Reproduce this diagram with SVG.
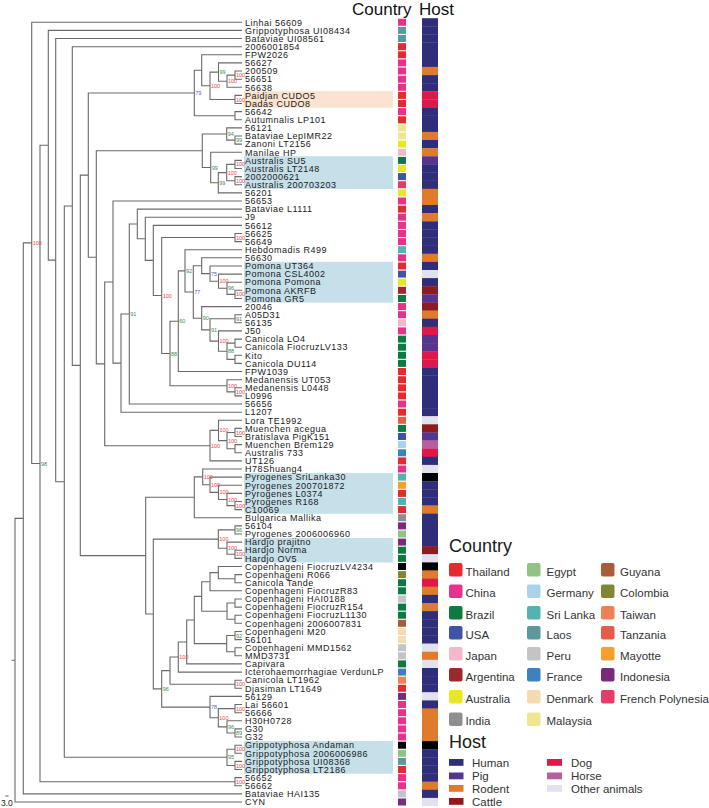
<svg xmlns="http://www.w3.org/2000/svg" width="709" height="808" viewBox="0 0 709 808">
<style>
text{font-family:"Liberation Sans",Arial,sans-serif}
.lf text{font-size:9px;letter-spacing:0.5px;fill:#1a1a1a}
.br_{fill:none;stroke:#6a6a6a;stroke-width:1.1}
.sp{font-size:5.5px}
.r{fill:#e5484a}.g{fill:#3b8a52}.b{fill:#5566b8}
.th{fill:#e52a30}.cn{fill:#e8318a}.bz{fill:#0f7a3f}.us{fill:#3e55a5}.jp{fill:#f2b9cb}.ar{fill:#9a2a2c}
.au{fill:#ebe52a}.in{fill:#8e8e8e}.eg{fill:#91c384}.de{fill:#a9d3e8}.lk{fill:#52b3b0}.la{fill:#5a9a9b}
.pe{fill:#c4c4c4}.fr{fill:#3e80c0}.dk{fill:#f5dbb0}.my{fill:#efe690}.gy{fill:#a85c3c}.co{fill:#828534}
.tw{fill:#ef8058}.tz{fill:#e35d4a}.yt{fill:#f5a02b}.id{fill:#7b2b7c}.pf{fill:#e63c6a}.bk{fill:#000}
.hu{fill:#2f2e7b}.pg{fill:#55358f}.ro{fill:#e07b2c}.ca{fill:#8e1c1e}.dg{fill:#e0184a}.ho{fill:#b65e9e}.ot{fill:#e2e2ef}
.lg{font-size:11.5px;fill:#333}
.ttl{font-size:18px;fill:#1a1a1a}
</style>
<rect width="709" height="808" fill="#fff"/>
<g id="highlights">
<rect x="244" y="91.2" width="149" height="16.6" fill="#fbe3cf"/>
<rect x="244" y="156.2" width="149" height="32.8" fill="#c6e0ea"/>
<rect x="244" y="261.8" width="149" height="40.8" fill="#c6e0ea"/>
<rect x="244" y="473" width="149" height="40.8" fill="#c6e0ea"/>
<rect x="244" y="538" width="149" height="24.5" fill="#c6e0ea"/>
<rect x="244" y="741" width="149" height="32.7" fill="#c6e0ea"/>
</g>
<text x="352" y="15" style="font-size:17px;fill:#111">Country</text>
<text x="419" y="15" style="font-size:17px;fill:#111">Host</text>
<g id="connectors" class="br_">
<path d="M242 71H235V79.2H242M235 75.1H227V87.3H242M242 62.9H218.5V81.2H227M242 95.4H235V103.5H242M218.5 72.1H210V99.5H235M242 54.8H201.7V85.8H210M242 111.6H235V119.8H242M201.7 70.3H194.3V115.7H235"/>
<path d="M242 136H235V144.1H242M242 127.9H226.7V140.1H235M242 160.4H235V168.5H242M242 176.6H235V184.7H242M235 164.4H226.7V180.7H235M226.7 172.6H218.3V192.9H242M242 152.3H210.7V182.7H218.3M226.7 134H202.3V167.5H210.7"/>
<path d="M242 233.5H235V241.6H242M242 290.3H235V298.5H242M242 282.2H227V294.4H235M242 274.1H218.5V288.3H227M242 266H210V281.2H218.5M242 257.8H201.7V273.6H210"/>
<path d="M242 314.7H235V322.8H242M242 339.1H235V347.2H242M242 355.3H235V363.4H242M235 343.1H227V359.4H235M242 330.9H218.5V351.2H227M235 318.8H210V341.1H218.5M242 306.6H201.7V329.9H210M201.7 265.7H193.3V318.3H201.7M242 249.7H185V292H193.3M185 270.9H178.3V371.5H242"/>
<path d="M242 387.8H235V395.9H242M242 379.7H227V391.9H235M178.3 321.2H170V385.8H227M235 237.5H161.7V353.5H170M242 225.4H153.3V295.5H161.7M242 217.2H145.3V260.4H153.3M242 209.1H137.3V238.8H145.3M137.3 224H129.3V404H242M129.3 314H121V412.2H242M242 201H113V363.1H121"/>
<path d="M242 428.4H235V436.5H242M242 444.6H235V452.8H242M235 432.5H227V448.7H235M242 420.3H218.5V440.6H227M218.5 430.4H210V460.9H242M113 282H104.7V445.7H210M202.3 150.7H96.3V363.9H104.7M194.3 93H88.3V257.3H96.3"/>
<path d="M242 501.5H235V509.6H242M242 493.4H227V505.6H235M242 485.3H218.5V499.5H227M242 477.1H210V492.4H218.5M242 469H202.7V484.8H210M202.7 476.9H194.3V517.7H242"/>
<path d="M242 525.9H235V534H242M242 550.2H235V558.4H242M242 542.1H227V554.3H235M235 529.9H218.3V548.2H227"/>
<path d="M242 574.6H235V582.7H242M242 566.5H218.3V578.7H235M218.3 572.6H210V590.8H242M242 599H235V607.1H242M242 615.2H235V623.3H242M235 603H227V619.3H235M210 581.7H201.7V611.2H227M242 631.5H235V639.6H242M242 647.7H235V655.8H242M235 635.5H226.7V651.8H235M201.7 596.4H194.3V643.6H226.7M194.3 620H186.7V663.9H242M186.7 642H178.3V672.1H242M242 680.2H235V688.3H242M178.3 657H170V684.2H235"/>
<path d="M242 728.9H235V737H242M242 720.8H227V733H235M242 704.5H235V712.7H242M235 708.6H218.3V726.9H227M242 696.4H210V717.8H218.3M170 670.6H161.7V707.1H210M218.3 539.1H153.3V688.9H161.7M194.3 497.3H145.7V614H153.3M88.3 175.1H80.3V555.6H145.7M242 46.7H72.3V365.4H80.3"/>
<path d="M242 745.2H235V753.3H242M242 761.4H235V769.5H242M235 749.2H227V765.5H235M72.3 206H64.3V757.3H227M242 38.5H55.7V481.7H64.3M242 30.4H48.3V260.1H55.7M242 777.6H235V785.8H242M48.3 145.3H40V781.7H235M242 22.3H31.7V463.5H40M31.7 242.9H23.3V793.9H242M23.3 518.4H15V802H242M11.7 660.2H15"/>
<path d="M5.5 796H8.5"/>
</g>
<text x="1" y="805.5" style="font-size:8.5px;fill:#222">3.0</text>
<g id="support" class="sp">
<text class="r" x="32.7" y="244.9">100</text><text class="g" x="41" y="465.5">98</text><text class="g" x="130.3" y="316">91</text>
<text class="b" x="195.3" y="95">79</text><text class="r" x="211" y="87.8">100</text><text class="g" x="219.5" y="74.1">99</text><text class="r" x="228" y="83.2">100</text><text class="r" x="236" y="77.1">100</text><text class="r" x="236" y="101.5">100</text>
<text class="g" x="227.7" y="136">94</text><text class="g" x="236" y="142.1">99</text><text class="g" x="211.7" y="169.5">99</text><text class="g" x="219.3" y="184.7">99</text><text class="r" x="227.7" y="174.6">100</text><text class="r" x="236" y="166.4">100</text><text class="r" x="236" y="182.7">100</text>
<text class="r" x="236" y="239.5">100</text><text class="r" x="162.7" y="297.5">100</text><text class="g" x="171" y="355.5">88</text><text class="g" x="179.3" y="323.2">60</text><text class="g" x="186" y="272.9">92</text><text class="b" x="194.3" y="294">77</text>
<text class="b" x="211" y="275.6">75</text><text class="r" x="219.5" y="283.2">100</text><text class="g" x="228" y="290.3">96</text><text class="r" x="236" y="296.4">100</text>
<text class="g" x="202.7" y="320.3">90</text><text class="g" x="236" y="320.8">91</text><text class="g" x="211" y="331.9">91</text><text class="r" x="219.5" y="343.1">100</text><text class="g" x="228" y="353.2">88</text>
<text class="r" x="228" y="387.8">100</text><text class="r" x="236" y="393.9">100</text>
<text class="r" x="236" y="434.5">100</text><text class="r" x="228" y="442.6">100</text><text class="r" x="219.5" y="432.4">100</text><text class="r" x="211" y="447.7">100</text>
<text class="r" x="203.7" y="478.9">100</text><text class="r" x="211" y="486.8">100</text><text class="r" x="219.5" y="494.4">100</text><text class="r" x="228" y="501.5">100</text><text class="r" x="236" y="507.6">100</text>
<text class="g" x="236" y="531.9">96</text><text class="r" x="219.3" y="541.1">100</text><text class="r" x="228" y="550.2">100</text><text class="r" x="236" y="556.3">100</text>
<text class="g" x="236" y="637.5">92</text><text class="r" x="179.3" y="659">100</text><text class="g" x="162.7" y="690.9">96</text><text class="r" x="236" y="686.2">100</text>
<text class="b" x="211" y="709.1">78</text><text class="r" x="236" y="710.6">100</text><text class="r" x="219.3" y="719.8">100</text><text class="g" x="228" y="728.9">96</text><text class="g" x="236" y="735">89</text>
<text class="r" x="236" y="751.2">100</text><text class="g" x="228" y="759.3">95</text><text class="r" x="236" y="767.5">100</text><text class="r" x="236" y="783.7">100</text>
</g>
<g id="leaves" class="lf">
<g id="leaf-1"><text x="245" y="25.5">Linhai 56609</text><rect class="cn" x="398" y="18.8" width="8" height="7"/><rect class="hu" x="422" y="18.2" width="16" height="8.4"/></g>
<g id="leaf-2"><text x="245" y="33.6">Grippotyphosa UI08434</text><rect class="la" x="398" y="26.9" width="8" height="7"/><rect class="hu" x="422" y="26.3" width="16" height="8.4"/></g>
<g id="leaf-3"><text x="245" y="41.7">Bataviae UI08561</text><rect class="la" x="398" y="35" width="8" height="7"/><rect class="hu" x="422" y="34.4" width="16" height="8.4"/></g>
<g id="leaf-4"><text x="245" y="49.9">2006001854</text><rect class="th" x="398" y="43.2" width="8" height="7"/><rect class="hu" x="422" y="42.6" width="16" height="8.4"/></g>
<g id="leaf-5"><text x="245" y="58">FPW2026</text><rect class="th" x="398" y="51.3" width="8" height="7"/><rect class="hu" x="422" y="50.7" width="16" height="8.4"/></g>
<g id="leaf-6"><text x="245" y="66.1">56627</text><rect class="cn" x="398" y="59.4" width="8" height="7"/><rect class="hu" x="422" y="58.8" width="16" height="8.4"/></g>
<g id="leaf-7"><text x="245" y="74.2">200509</text><rect class="cn" x="398" y="67.5" width="8" height="7"/><rect class="ro" x="422" y="66.9" width="16" height="8.4"/></g>
<g id="leaf-8"><text x="245" y="82.4">56651</text><rect class="cn" x="398" y="75.7" width="8" height="7"/><rect class="hu" x="422" y="75.1" width="16" height="8.4"/></g>
<g id="leaf-9"><text x="245" y="90.5">56638</text><rect class="cn" x="398" y="83.8" width="8" height="7"/><rect class="hu" x="422" y="83.2" width="16" height="8.4"/></g>
<g id="leaf-10"><text x="245" y="98.6">Paidjan CUDO5</text><rect class="th" x="398" y="91.9" width="8" height="7"/><rect class="dg" x="422" y="91.3" width="16" height="8.4"/></g>
<g id="leaf-11"><text x="245" y="106.7">Dadas CUDO8</text><rect class="th" x="398" y="100" width="8" height="7"/><rect class="dg" x="422" y="99.4" width="16" height="8.4"/></g>
<g id="leaf-12"><text x="245" y="114.8">56642</text><rect class="cn" x="398" y="108.1" width="8" height="7"/><rect class="hu" x="422" y="107.5" width="16" height="8.4"/></g>
<g id="leaf-13"><text x="245" y="123">Autumnalis LP101</text><rect class="th" x="398" y="116.3" width="8" height="7"/><rect class="hu" x="422" y="115.7" width="16" height="8.4"/></g>
<g id="leaf-14"><text x="245" y="131.1">56121</text><rect class="my" x="398" y="124.4" width="8" height="7"/><rect class="hu" x="422" y="123.8" width="16" height="8.4"/></g>
<g id="leaf-15"><text x="245" y="139.2">Bataviae LepIMR22</text><rect class="my" x="398" y="132.5" width="8" height="7"/><rect class="ro" x="422" y="131.9" width="16" height="8.4"/></g>
<g id="leaf-16"><text x="245" y="147.3">Zanoni LT2156</text><rect class="au" x="398" y="140.6" width="8" height="7"/><rect class="hu" x="422" y="140" width="16" height="8.4"/></g>
<g id="leaf-17"><text x="245" y="155.5">Manilae HP</text><rect class="jp" x="398" y="148.8" width="8" height="7"/><rect class="ro" x="422" y="148.2" width="16" height="8.4"/></g>
<g id="leaf-18"><text x="245" y="163.6">Australis SU5</text><rect class="bz" x="398" y="156.9" width="8" height="7"/><rect class="pg" x="422" y="156.3" width="16" height="8.4"/></g>
<g id="leaf-19"><text x="245" y="171.7">Australis LT2148</text><rect class="au" x="398" y="165" width="8" height="7"/><rect class="hu" x="422" y="164.4" width="16" height="8.4"/></g>
<g id="leaf-20"><text x="245" y="179.8">2002000621</text><rect class="us" x="398" y="173.1" width="8" height="7"/><rect class="hu" x="422" y="172.5" width="16" height="8.4"/></g>
<g id="leaf-21"><text x="245" y="187.9">Australis 200703203</text><rect class="pf" x="398" y="181.2" width="8" height="7"/><rect class="hu" x="422" y="180.6" width="16" height="8.4"/></g>
<g id="leaf-22"><text x="245" y="196.1">56201</text><rect class="au" x="398" y="189.4" width="8" height="7"/><rect class="ro" x="422" y="188.8" width="16" height="8.4"/></g>
<g id="leaf-23"><text x="245" y="204.2">56653</text><rect class="cn" x="398" y="197.5" width="8" height="7"/><rect class="ro" x="422" y="196.9" width="16" height="8.4"/></g>
<g id="leaf-24"><text x="245" y="212.3">Bataviae L1111</text><rect class="th" x="398" y="205.6" width="8" height="7"/><rect class="hu" x="422" y="205" width="16" height="8.4"/></g>
<g id="leaf-25"><text x="245" y="220.4">J9</text><rect class="cn" x="398" y="213.7" width="8" height="7"/><rect class="ro" x="422" y="213.1" width="16" height="8.4"/></g>
<g id="leaf-26"><text x="245" y="228.6">56612</text><rect class="cn" x="398" y="221.9" width="8" height="7"/><rect class="hu" x="422" y="221.3" width="16" height="8.4"/></g>
<g id="leaf-27"><text x="245" y="236.7">56625</text><rect class="cn" x="398" y="230" width="8" height="7"/><rect class="hu" x="422" y="229.4" width="16" height="8.4"/></g>
<g id="leaf-28"><text x="245" y="244.8">56649</text><rect class="cn" x="398" y="238.1" width="8" height="7"/><rect class="hu" x="422" y="237.5" width="16" height="8.4"/></g>
<g id="leaf-29"><text x="245" y="252.9">Hebdomadis R499</text><rect class="lk" x="398" y="246.2" width="8" height="7"/><rect class="hu" x="422" y="245.6" width="16" height="8.4"/></g>
<g id="leaf-30"><text x="245" y="261">56630</text><rect class="cn" x="398" y="254.3" width="8" height="7"/><rect class="ro" x="422" y="253.7" width="16" height="8.4"/></g>
<g id="leaf-31"><text x="245" y="269.2">Pomona UT364</text><rect class="th" x="398" y="262.5" width="8" height="7"/><rect class="hu" x="422" y="261.9" width="16" height="8.4"/></g>
<g id="leaf-32"><text x="245" y="277.3">Pomona CSL4002</text><rect class="us" x="398" y="270.6" width="8" height="7"/><rect class="ot" x="422" y="270" width="16" height="8.4"/></g>
<g id="leaf-33"><text x="245" y="285.4">Pomona Pomona</text><rect class="au" x="398" y="278.7" width="8" height="7"/><rect class="hu" x="422" y="278.1" width="16" height="8.4"/></g>
<g id="leaf-34"><text x="245" y="293.5">Pomona AKRFB</text><rect class="ar" x="398" y="286.8" width="8" height="7"/><rect class="ca" x="422" y="286.2" width="16" height="8.4"/></g>
<g id="leaf-35"><text x="245" y="301.7">Pomona GR5</text><rect class="bz" x="398" y="295" width="8" height="7"/><rect class="pg" x="422" y="294.4" width="16" height="8.4"/></g>
<g id="leaf-36"><text x="245" y="309.8">20046</text><rect class="cn" x="398" y="303.1" width="8" height="7"/><rect class="ca" x="422" y="302.5" width="16" height="8.4"/></g>
<g id="leaf-37"><text x="245" y="317.9">A05D31</text><rect class="cn" x="398" y="311.2" width="8" height="7"/><rect class="ro" x="422" y="310.6" width="16" height="8.4"/></g>
<g id="leaf-38"><text x="245" y="326">56135</text><rect class="jp" x="398" y="319.3" width="8" height="7"/><rect class="hu" x="422" y="318.7" width="16" height="8.4"/></g>
<g id="leaf-39"><text x="245" y="334.1">J50</text><rect class="cn" x="398" y="327.4" width="8" height="7"/><rect class="dg" x="422" y="326.8" width="16" height="8.4"/></g>
<g id="leaf-40"><text x="245" y="342.3">Canicola LO4</text><rect class="bz" x="398" y="335.6" width="8" height="7"/><rect class="pg" x="422" y="335" width="16" height="8.4"/></g>
<g id="leaf-41"><text x="245" y="350.4">Canicola FiocruzLV133</text><rect class="bz" x="398" y="343.7" width="8" height="7"/><rect class="pg" x="422" y="343.1" width="16" height="8.4"/></g>
<g id="leaf-42"><text x="245" y="358.5">Kito</text><rect class="bz" x="398" y="351.8" width="8" height="7"/><rect class="dg" x="422" y="351.2" width="16" height="8.4"/></g>
<g id="leaf-43"><text x="245" y="366.6">Canicola DU114</text><rect class="bz" x="398" y="359.9" width="8" height="7"/><rect class="dg" x="422" y="359.3" width="16" height="8.4"/></g>
<g id="leaf-44"><text x="245" y="374.7">FPW1039</text><rect class="th" x="398" y="368" width="8" height="7"/><rect class="hu" x="422" y="367.4" width="16" height="8.4"/></g>
<g id="leaf-45"><text x="245" y="382.9">Medanensis UT053</text><rect class="th" x="398" y="376.2" width="8" height="7"/><rect class="hu" x="422" y="375.6" width="16" height="8.4"/></g>
<g id="leaf-46"><text x="245" y="391">Medanensis L0448</text><rect class="th" x="398" y="384.3" width="8" height="7"/><rect class="hu" x="422" y="383.7" width="16" height="8.4"/></g>
<g id="leaf-47"><text x="245" y="399.1">L0996</text><rect class="th" x="398" y="392.4" width="8" height="7"/><rect class="hu" x="422" y="391.8" width="16" height="8.4"/></g>
<g id="leaf-48"><text x="245" y="407.2">56656</text><rect class="cn" x="398" y="400.5" width="8" height="7"/><rect class="hu" x="422" y="399.9" width="16" height="8.4"/></g>
<g id="leaf-49"><text x="245" y="415.4">L1207</text><rect class="th" x="398" y="408.7" width="8" height="7"/><rect class="hu" x="422" y="408.1" width="16" height="8.4"/></g>
<g id="leaf-50"><text x="245" y="423.5">Lora TE1992</text><rect class="tz" x="398" y="416.8" width="8" height="7"/><rect class="ot" x="422" y="416.2" width="16" height="8.4"/></g>
<g id="leaf-51"><text x="245" y="431.6">Muenchen acegua</text><rect class="bz" x="398" y="424.9" width="8" height="7"/><rect class="ca" x="422" y="424.3" width="16" height="8.4"/></g>
<g id="leaf-52"><text x="245" y="439.7">Bratislava PigK151</text><rect class="us" x="398" y="433" width="8" height="7"/><rect class="pg" x="422" y="432.4" width="16" height="8.4"/></g>
<g id="leaf-53"><text x="245" y="447.8">Muenchen Brem129</text><rect class="de" x="398" y="441.1" width="8" height="7"/><rect class="ho" x="422" y="440.5" width="16" height="8.4"/></g>
<g id="leaf-54"><text x="245" y="456">Australis 733</text><rect class="fr" x="398" y="449.3" width="8" height="7"/><rect class="dg" x="422" y="448.7" width="16" height="8.4"/></g>
<g id="leaf-55"><text x="245" y="464.1">UT126</text><rect class="th" x="398" y="457.4" width="8" height="7"/><rect class="hu" x="422" y="456.8" width="16" height="8.4"/></g>
<g id="leaf-56"><text x="245" y="472.2">H78Shuang4</text><rect class="cn" x="398" y="465.5" width="8" height="7"/><rect class="ot" x="422" y="464.9" width="16" height="8.4"/></g>
<g id="leaf-57"><text x="245" y="480.3">Pyrogenes SriLanka30</text><rect class="lk" x="398" y="473.6" width="8" height="7"/><rect class="bk" x="422" y="473" width="16" height="8.4"/></g>
<g id="leaf-58"><text x="245" y="488.5">Pyrogenes 200701872</text><rect class="yt" x="398" y="481.8" width="8" height="7"/><rect class="hu" x="422" y="481.2" width="16" height="8.4"/></g>
<g id="leaf-59"><text x="245" y="496.6">Pyrogenes L0374</text><rect class="th" x="398" y="489.9" width="8" height="7"/><rect class="hu" x="422" y="489.3" width="16" height="8.4"/></g>
<g id="leaf-60"><text x="245" y="504.7">Pyrogenes R168</text><rect class="lk" x="398" y="498" width="8" height="7"/><rect class="hu" x="422" y="497.4" width="16" height="8.4"/></g>
<g id="leaf-61"><text x="245" y="512.8">C10069</text><rect class="th" x="398" y="506.1" width="8" height="7"/><rect class="ro" x="422" y="505.5" width="16" height="8.4"/></g>
<g id="leaf-62"><text x="245" y="520.9">Bulgarica Mallika</text><rect class="in" x="398" y="514.2" width="8" height="7"/><rect class="hu" x="422" y="513.6" width="16" height="8.4"/></g>
<g id="leaf-63"><text x="245" y="529.1">56104</text><rect class="id" x="398" y="522.4" width="8" height="7"/><rect class="hu" x="422" y="521.8" width="16" height="8.4"/></g>
<g id="leaf-64"><text x="245" y="537.2">Pyrogenes 2006006960</text><rect class="eg" x="398" y="530.5" width="8" height="7"/><rect class="hu" x="422" y="529.9" width="16" height="8.4"/></g>
<g id="leaf-65"><text x="245" y="545.3">Hardjo prajitno</text><rect class="id" x="398" y="538.6" width="8" height="7"/><rect class="hu" x="422" y="538" width="16" height="8.4"/></g>
<g id="leaf-66"><text x="245" y="553.4">Hardjo Norma</text><rect class="bz" x="398" y="546.7" width="8" height="7"/><rect class="ca" x="422" y="546.1" width="16" height="8.4"/></g>
<g id="leaf-67"><text x="245" y="561.6">Hardjo OV5</text><rect class="bz" x="398" y="554.9" width="8" height="7"/><rect class="ot" x="422" y="554.3" width="16" height="8.4"/></g>
<g id="leaf-68"><text x="245" y="569.7">Copenhageni FiocruzLV4234</text><rect class="bk" x="398" y="563" width="8" height="7"/><rect class="bk" x="422" y="562.4" width="16" height="8.4"/></g>
<g id="leaf-69"><text x="245" y="577.8">Copenhageni R066</text><rect class="co" x="398" y="571.1" width="8" height="7"/><rect class="ro" x="422" y="570.5" width="16" height="8.4"/></g>
<g id="leaf-70"><text x="245" y="585.9">Canicola Tande</text><rect class="bz" x="398" y="579.2" width="8" height="7"/><rect class="dg" x="422" y="578.6" width="16" height="8.4"/></g>
<g id="leaf-71"><text x="245" y="594">Copenhageni FiocruzR83</text><rect class="bz" x="398" y="587.3" width="8" height="7"/><rect class="ro" x="422" y="586.7" width="16" height="8.4"/></g>
<g id="leaf-72"><text x="245" y="602.2">Copenhageni HAI0188</text><rect class="pe" x="398" y="595.5" width="8" height="7"/><rect class="hu" x="422" y="594.9" width="16" height="8.4"/></g>
<g id="leaf-73"><text x="245" y="610.3">Copenhageni FiocruzR154</text><rect class="bz" x="398" y="603.6" width="8" height="7"/><rect class="ro" x="422" y="603" width="16" height="8.4"/></g>
<g id="leaf-74"><text x="245" y="618.4">Copenhageni FiocruzL1130</text><rect class="bz" x="398" y="611.7" width="8" height="7"/><rect class="hu" x="422" y="611.1" width="16" height="8.4"/></g>
<g id="leaf-75"><text x="245" y="626.5">Copenhageni 2006007831</text><rect class="gy" x="398" y="619.8" width="8" height="7"/><rect class="hu" x="422" y="619.2" width="16" height="8.4"/></g>
<g id="leaf-76"><text x="245" y="634.7">Copenhageni M20</text><rect class="dk" x="398" y="628" width="8" height="7"/><rect class="hu" x="422" y="627.4" width="16" height="8.4"/></g>
<g id="leaf-77"><text x="245" y="642.8">56101</text><rect class="dk" x="398" y="636.1" width="8" height="7"/><rect class="hu" x="422" y="635.5" width="16" height="8.4"/></g>
<g id="leaf-78"><text x="245" y="650.9">Copenhageni MMD1562</text><rect class="pe" x="398" y="644.2" width="8" height="7"/><rect class="ot" x="422" y="643.6" width="16" height="8.4"/></g>
<g id="leaf-79"><text x="245" y="659">MMD3731</text><rect class="pe" x="398" y="652.3" width="8" height="7"/><rect class="ro" x="422" y="651.7" width="16" height="8.4"/></g>
<g id="leaf-80"><text x="245" y="667.1">Capivara</text><rect class="bz" x="398" y="660.4" width="8" height="7"/><rect class="ot" x="422" y="659.8" width="16" height="8.4"/></g>
<g id="leaf-81"><text x="245" y="675.3">Icterohaemorrhagiae VerdunLP</text><rect class="fr" x="398" y="668.6" width="8" height="7"/><rect class="hu" x="422" y="668" width="16" height="8.4"/></g>
<g id="leaf-82"><text x="245" y="683.4">Canicola LT1962</text><rect class="tw" x="398" y="676.7" width="8" height="7"/><rect class="hu" x="422" y="676.1" width="16" height="8.4"/></g>
<g id="leaf-83"><text x="245" y="691.5">Djasiman LT1649</text><rect class="th" x="398" y="684.8" width="8" height="7"/><rect class="hu" x="422" y="684.2" width="16" height="8.4"/></g>
<g id="leaf-84"><text x="245" y="699.6">56129</text><rect class="id" x="398" y="692.9" width="8" height="7"/><rect class="ot" x="422" y="692.3" width="16" height="8.4"/></g>
<g id="leaf-85"><text x="245" y="707.7">Lai 56601</text><rect class="cn" x="398" y="701" width="8" height="7"/><rect class="hu" x="422" y="700.4" width="16" height="8.4"/></g>
<g id="leaf-86"><text x="245" y="715.9">56666</text><rect class="cn" x="398" y="709.2" width="8" height="7"/><rect class="ro" x="422" y="708.6" width="16" height="8.4"/></g>
<g id="leaf-87"><text x="245" y="724">H30H0728</text><rect class="cn" x="398" y="717.3" width="8" height="7"/><rect class="ro" x="422" y="716.7" width="16" height="8.4"/></g>
<g id="leaf-88"><text x="245" y="732.1">G30</text><rect class="cn" x="398" y="725.4" width="8" height="7"/><rect class="ro" x="422" y="724.8" width="16" height="8.4"/></g>
<g id="leaf-89"><text x="245" y="740.2">G32</text><rect class="cn" x="398" y="733.5" width="8" height="7"/><rect class="ro" x="422" y="732.9" width="16" height="8.4"/></g>
<g id="leaf-90"><text x="245" y="748.4">Grippotyphosa Andaman</text><rect class="bk" x="398" y="741.7" width="8" height="7"/><rect class="bk" x="422" y="741.1" width="16" height="8.4"/></g>
<g id="leaf-91"><text x="245" y="756.5">Grippotyphosa 2006006986</text><rect class="eg" x="398" y="749.8" width="8" height="7"/><rect class="hu" x="422" y="749.2" width="16" height="8.4"/></g>
<g id="leaf-92"><text x="245" y="764.6">Grippotyphosa UI08368</text><rect class="la" x="398" y="757.9" width="8" height="7"/><rect class="hu" x="422" y="757.3" width="16" height="8.4"/></g>
<g id="leaf-93"><text x="245" y="772.7">Grippotyphosa LT2186</text><rect class="th" x="398" y="766" width="8" height="7"/><rect class="hu" x="422" y="765.4" width="16" height="8.4"/></g>
<g id="leaf-94"><text x="245" y="780.8">56652</text><rect class="cn" x="398" y="774.1" width="8" height="7"/><rect class="hu" x="422" y="773.5" width="16" height="8.4"/></g>
<g id="leaf-95"><text x="245" y="789">56662</text><rect class="cn" x="398" y="782.3" width="8" height="7"/><rect class="ro" x="422" y="781.7" width="16" height="8.4"/></g>
<g id="leaf-96"><text x="245" y="797.1">Bataviae HAI135</text><rect class="pe" x="398" y="790.4" width="8" height="7"/><rect class="hu" x="422" y="789.8" width="16" height="8.4"/></g>
<g id="leaf-97"><text x="245" y="805.2">CYN</text><rect class="id" x="398" y="798.5" width="8" height="7"/><rect class="ot" x="422" y="797.9" width="16" height="8.2"/></g>
</g>
<g id="legend-country">
<text class="ttl" x="449" y="552">Country</text>
<g class="lg">
<rect class="th" x="449" y="563" width="13.5" height="13.5" rx="2"/><text x="465.5" y="575.5">Thailand</text>
<rect class="cn" x="449" y="584.5" width="13.5" height="13.5" rx="2"/><text x="465.5" y="597">China</text>
<rect class="bz" x="449" y="606" width="13.5" height="13.5" rx="2"/><text x="465.5" y="618.5">Brazil</text>
<rect class="us" x="449" y="626" width="13.5" height="13.5" rx="2"/><text x="465.5" y="638.5">USA</text>
<rect class="jp" x="449" y="647" width="13.5" height="13.5" rx="2"/><text x="465.5" y="659.5">Japan</text>
<rect class="ar" x="449" y="668" width="13.5" height="13.5" rx="2"/><text x="465.5" y="680.5">Argentina</text>
<rect class="au" x="449" y="690" width="13.5" height="13.5" rx="2"/><text x="465.5" y="702.5">Australia</text>
<rect class="in" x="449" y="712.5" width="13.5" height="13.5" rx="2"/><text x="465.5" y="725">India</text>
<rect class="eg" x="527" y="563" width="13.5" height="13.5" rx="2"/><text x="546.5" y="575.5">Egypt</text>
<rect class="de" x="527" y="584.5" width="13.5" height="13.5" rx="2"/><text x="546.5" y="597">Germany</text>
<rect class="lk" x="527" y="606" width="13.5" height="13.5" rx="2"/><text x="546.5" y="618.5">Sri Lanka</text>
<rect class="la" x="527" y="626" width="13.5" height="13.5" rx="2"/><text x="546.5" y="638.5">Laos</text>
<rect class="pe" x="527" y="647" width="13.5" height="13.5" rx="2"/><text x="546.5" y="659.5">Peru</text>
<rect class="fr" x="527" y="668" width="13.5" height="13.5" rx="2"/><text x="546.5" y="680.5">France</text>
<rect class="dk" x="527" y="690" width="13.5" height="13.5" rx="2"/><text x="546.5" y="702.5">Denmark</text>
<rect class="my" x="527" y="712.5" width="13.5" height="13.5" rx="2"/><text x="546.5" y="725">Malaysia</text>
<rect class="gy" x="601" y="563" width="13.5" height="13.5" rx="2"/><text x="620" y="575.5">Guyana</text>
<rect class="co" x="601" y="584.5" width="13.5" height="13.5" rx="2"/><text x="620" y="597">Colombia</text>
<rect class="tw" x="601" y="606" width="13.5" height="13.5" rx="2"/><text x="620" y="618.5">Taiwan</text>
<rect class="tz" x="601" y="626" width="13.5" height="13.5" rx="2"/><text x="620" y="638.5">Tanzania</text>
<rect class="yt" x="601" y="647" width="13.5" height="13.5" rx="2"/><text x="620" y="659.5">Mayotte</text>
<rect class="id" x="601" y="668" width="13.5" height="13.5" rx="2"/><text x="620" y="680.5">Indonesia</text>
<rect class="pf" x="601" y="690" width="13.5" height="13.5" rx="2"/><text x="620" y="702.5">French Polynesia</text>
</g>
</g>
<g id="legend-host">
<text class="ttl" x="449" y="748">Host</text>
<g class="lg">
<rect class="hu" x="449" y="759" width="14.5" height="6.8"/><text x="472" y="766.5">Human</text>
<rect class="pg" x="449" y="772.5" width="14.5" height="6.8"/><text x="472" y="780">Pig</text>
<rect class="ro" x="449" y="785" width="14.5" height="6.8"/><text x="472" y="792.5">Rodent</text>
<rect class="ca" x="449" y="798" width="14.5" height="6.8"/><text x="472" y="805.5">Cattle</text>
<rect class="dg" x="547" y="759" width="15" height="6.8"/><text x="571" y="766.5">Dog</text>
<rect class="ho" x="547" y="772.5" width="15" height="6.8"/><text x="571" y="780">Horse</text>
<rect class="ot" x="547" y="785" width="15" height="6.8"/><text x="571" y="792.5">Other animals</text>
</g>
</g>
</svg>
